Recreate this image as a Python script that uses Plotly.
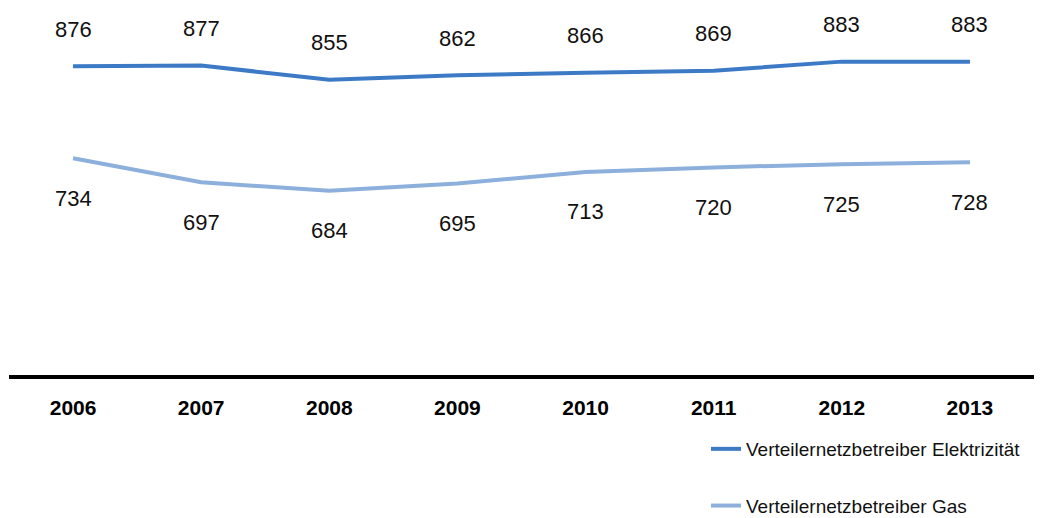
import plotly.graph_objects as go

# Anzahl der Verteilernetzbetreiber je Jahr
years = ["2006", "2007", "2008", "2009", "2010", "2011", "2012", "2013"]
strom = [876, 877, 855, 862, 866, 869, 883, 883]
gas = [734, 697, 684, 695, 713, 720, 725, 728]

name_strom = "Verteilernetzbetreiber Elektrizität"
name_gas = "Verteilernetzbetreiber Gas"

col_strom = "#3d7ac6"
col_gas = "#8cb0db"

fig = go.Figure()
fig.add_trace(go.Scatter(
    x=years, y=strom, mode="lines", name=name_strom, legendgroup="a",
    line=dict(color=col_strom, width=4), hoverinfo="skip",
))
fig.add_trace(go.Scatter(
    x=years, y=gas, mode="lines", name=name_gas, legendgroup="b",
    line=dict(color=col_gas, width=4), hoverinfo="skip",
))

# Wertbeschriftungen: über der Strom-Linie, unter der Gas-Linie
# (x als Kategorienindex, damit die Jahreszahlen nicht als Zahlen gelesen werden)
label_font = dict(family="Arial, Liberation Sans, sans-serif", size=22, color="#111111")
for i, v in enumerate(strom):
    fig.add_annotation(x=i, y=v, text=str(v), showarrow=False,
                       yshift=37, font=label_font)
for i, v in enumerate(gas):
    fig.add_annotation(x=i, y=v, text=str(v), showarrow=False,
                       yshift=-40, font=label_font)

fig.update_layout(
    width=1052, height=518,
    margin=dict(l=9, r=18, t=0, b=143, autoexpand=False),
    paper_bgcolor="white", plot_bgcolor="white",
    showlegend=True,
    legend=dict(
        xref="container", yref="container",
        x=706 / 1052, y=1 - 430 / 518, xanchor="left", yanchor="top",
        traceorder="grouped", tracegroupgap=29,
        font=dict(family="Arial, Liberation Sans, sans-serif", size=19, color="#111111"),
        bgcolor="rgba(0,0,0,0)", itemclick=False, itemdoubleclick=False,
    ),
    xaxis=dict(
        type="category", range=[-0.5, len(years) - 0.5],
        showgrid=False, zeroline=False,
        showline=True, linecolor="black", linewidth=4,
        ticks="", ticklabelstandoff=11,
        tickfont=dict(family="Arial, Liberation Sans, sans-serif", size=21, color="black", weight="bold"),
    ),
    yaxis=dict(
        range=[400, 978], showgrid=False, zeroline=False,
        showline=False, showticklabels=False, ticks="",
    ),
)

fig.write_html("out.html")
